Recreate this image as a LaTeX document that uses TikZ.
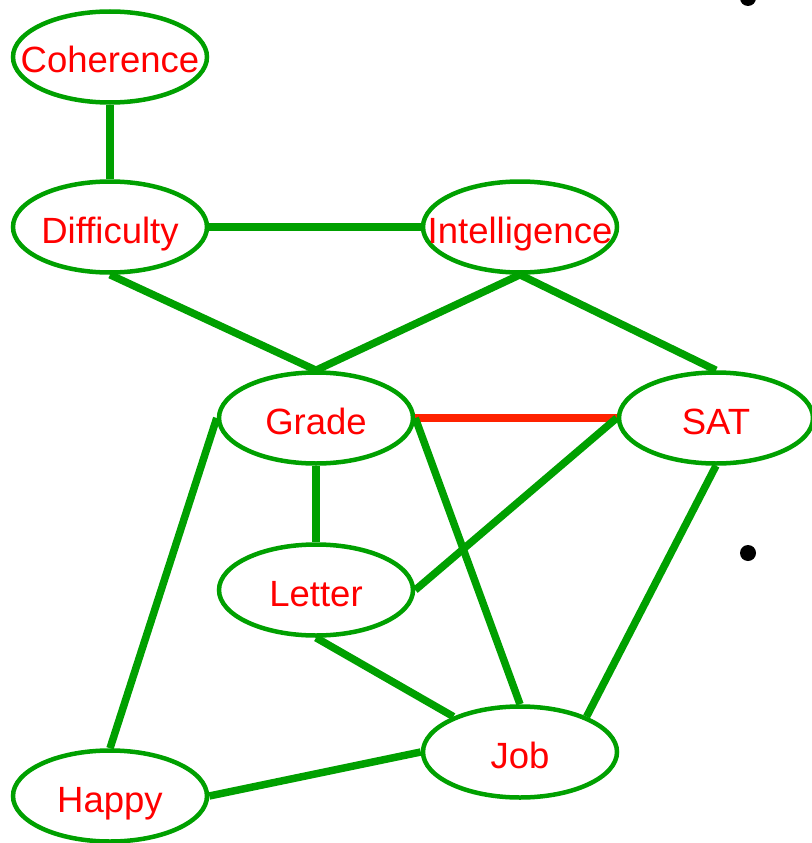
\documentclass[tikz,border=0pt]{standalone}
\usepackage{fontspec}
\setmainfont{Liberation Sans}
\usetikzlibrary{shapes.geometric}
\definecolor{egreen}{RGB}{0,160,0}
\definecolor{ered}{RGB}{255,34,0}
\definecolor{tred}{RGB}{255,0,0}
\newcommand{\vlabel}[1]{\makebox[0pt]{#1}}
\begin{document}
\begin{tikzpicture}[x=1pt,y=-1pt,
  var/.style={ellipse,draw=egreen,line width=4.5pt,minimum width=194pt,minimum height=91pt,inner sep=0pt,text=tred,text height=32pt,text depth=0pt,font=\fontsize{36.5}{40}\selectfont},
  edge/.style={draw=egreen,line width=7.5pt},
  redge/.style={draw=ered,line width=7.5pt},
  bullet/.style={circle,fill=black,inner sep=0pt,minimum size=16pt}]
\useasboundingbox (0,0) rectangle (811,843);
\node[var] (coh) at (110,57) {\vlabel{Coherence}};
\node[var] (dif) at (110,227) {\vlabel{Difficulty}};
\node[var] (int) at (520,227) {\vlabel{Intelligence}};
\node[var] (gra) at (316,418) {\vlabel{Grade}};
\node[var] (sat) at (716,418) {\vlabel{SAT}};
\node[var] (let) at (316,590) {\vlabel{Letter}};
\node[var] (job) at (520,752) {\vlabel{Job}};
\node[var] (hap) at (110,796) {\vlabel{Happy}};
\node[bullet] (b1) at (748,-2) {};
\node[bullet] (b2) at (748,553) {};
\draw[edge] (coh.south) -- (dif.north);
\draw[edge] (dif.east) -- (int.west);
\draw[edge] (dif.south) -- (gra.north);
\draw[edge] (int.south) -- (gra.north);
\draw[edge] (int.south) -- (sat.north);
\draw[redge] (gra.east) -- (sat.west);
\draw[edge] (gra.south) -- (let.north);
\draw[edge] (sat.west) -- (let.east);
\draw[edge] (gra.east) -- (job.north);
\draw[edge] (sat.south) -- (job.28);
\draw[edge] (let.south) -- (job.152);
\draw[edge] (gra.west) -- (hap.north);
\draw[edge] (hap.east) -- (job.west);
\end{tikzpicture}
\end{document}
